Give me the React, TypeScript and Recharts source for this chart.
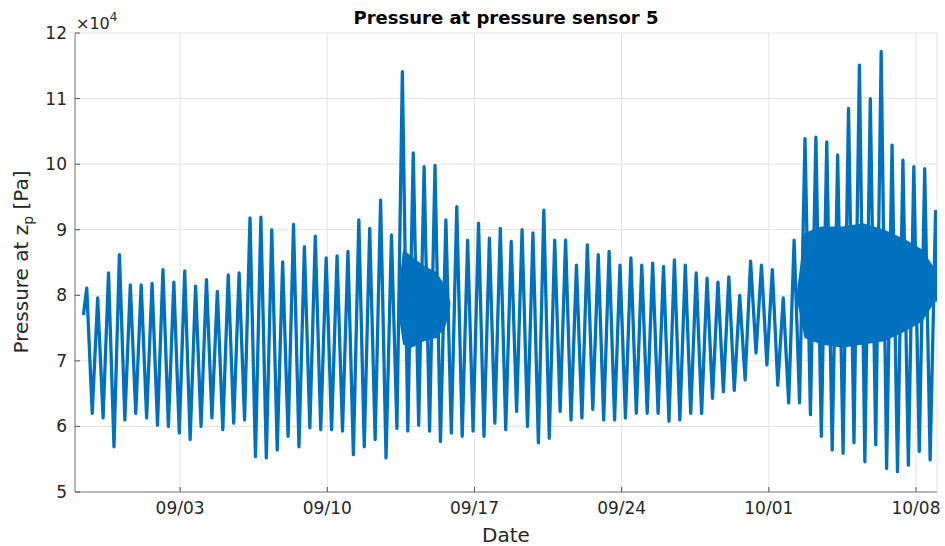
import React from 'react';
import { ComposedChart, Line, Area, XAxis, YAxis, CartesianGrid } from 'recharts';

// pressure values in units of 1e4 Pa, days counted from 09/01 00:00
const highs = [
  8.11, 7.96, 8.34, 8.62, 8.16, 8.16, 8.18, 8.39, 8.2, 8.37, 8.14, 8.24,
  8.06, 8.31, 8.34, 9.18, 9.19, 9.0, 8.51, 9.08, 8.74, 8.9, 8.57, 8.6, 8.67,
  9.15, 9.02, 9.45, 8.92, 11.41, 10.17, 9.96, 9.98, 9.15, 9.35, 8.84, 9.1,
  8.87, 9.02, 8.82, 9.0, 8.95, 9.3, 8.84, 8.84, 8.46, 8.77, 8.62, 8.67, 8.46,
  8.57, 8.46, 8.49, 8.44, 8.54, 8.46, 8.34, 8.26, 8.2, 8.28, 8.0, 8.52, 8.46,
  8.39, 7.96, 8.84, 10.39, 10.41, 10.34, 10.14, 10.85, 11.51, 11.0, 11.72, 10.29, 10.06, 9.96, 9.93, 9.28,
];
const lows = [
  6.2, 6.13, 5.69, 6.1, 6.2, 6.13, 6.02, 6.0, 5.9, 5.8, 6.0,
  6.13, 5.95, 6.05, 6.1, 5.54, 5.52, 5.64, 5.85, 5.69, 5.98, 5.95, 5.95, 5.93,
  5.57, 5.69, 5.8, 5.52, 5.97, 5.93, 6.02, 5.93, 5.77, 5.9, 5.85, 5.93,
  5.85, 6.05, 5.95, 6.23, 6.0, 5.75, 5.82, 6.23, 6.1, 6.13, 6.26, 6.1, 6.1,
  6.13, 6.2, 6.2, 6.2, 6.08, 6.1, 6.2, 6.2, 6.43, 6.53, 6.55, 6.71, 7.12,
  6.94, 6.63, 6.36, 6.36, 6.18, 5.85, 5.64, 5.59, 5.75, 5.46, 5.72, 5.36, 5.31, 5.41, 5.62, 5.49,
];
const startDay = -2.6;
const startValue = 7.7;
const firstPeakDay = -2.44;
const halfTide = 0.2588;
const endDay = 38;
const endValue = 7.9;

// dense high-frequency parts of the record (lo / hi envelope)
const stormADays = [12.35, 12.6, 13.0, 13.6, 14.2, 14.6, 14.85];
const stormALow = [7.8, 7.25, 7.2, 7.3, 7.35, 7.5, 7.8];
const stormAHigh = [7.9, 8.7, 8.6, 8.45, 8.35, 8.15, 7.9];
const stormBDays = [31.35, 31.7, 32.5, 33.5, 34.5, 35.5, 36.5, 37.3, 37.9];
const stormBLow = [7.9, 7.35, 7.25, 7.2, 7.25, 7.3, 7.45, 7.6, 7.9];
const stormBHigh = [8.1, 8.95, 9.05, 9.05, 9.1, 9.0, 8.85, 8.7, 8.4];

const dateTicks = [2, 9, 16, 23, 30, 37];
const dateLabels = ['09/03', '09/10', '09/17', '09/24', '10/01', '10/08'];
const pressureTicks = [5, 6, 7, 8, 9, 10, 11, 12];

const tide: { day: number; p: number }[] = [{ day: startDay, p: startValue }];
highs.forEach((h, i) => {
  tide.push({ day: firstPeakDay + 2 * i * halfTide, p: h });
  if (i < lows.length) tide.push({ day: firstPeakDay + (2 * i + 1) * halfTide, p: lows[i] });
});
tide.push({ day: endDay, p: endValue });

const band = (days: number[], lo: number[], hi: number[]) =>
  days.map((d, i) => ({ day: d, lo: lo[i], hi: hi[i] }));

const blue = '#0072BD';
const font = 'DejaVu Sans';
const tickStyle = { fill: '#262626', fontSize: 17, fontFamily: font };

export default function App() {
  return (
    <div style={{ position: 'absolute', left: 0, top: 0, width: 945, height: 546, background: '#fff' }}>
      <ComposedChart width={945} height={546} margin={{ top: 33, right: 8, bottom: 24, left: 35 }}>
        <CartesianGrid stroke="#e4e4e4" />
        <XAxis
          dataKey="day"
          type="number"
          domain={[-3, 38]}
          ticks={dateTicks}
          tickFormatter={(v) => dateLabels[dateTicks.indexOf(v)]}
          height={30}
          tickSize={-5}
          tickMargin={15}
          tick={tickStyle}
          stroke="#808080"
          tickLine={{ stroke: '#555' }}
          allowDataOverflow
        />
        <XAxis
          xAxisId="top"
          orientation="top"
          dataKey="day"
          type="number"
          domain={[-3, 38]}
          ticks={dateTicks}
          tickFormatter={() => ''}
          height={0}
          tickSize={-5}
          stroke="#808080"
          tickLine={{ stroke: '#555' }}
        />
        <YAxis
          type="number"
          domain={[5, 12]}
          ticks={pressureTicks}
          width={40}
          tickSize={-5}
          tickMargin={13}
          tick={tickStyle}
          stroke="#808080"
          tickLine={{ stroke: '#555' }}
          allowDataOverflow
        />
        <YAxis
          yAxisId="right"
          orientation="right"
          type="number"
          domain={[5, 12]}
          ticks={pressureTicks}
          tickFormatter={() => ''}
          width={0}
          tickSize={-5}
          stroke="#808080"
          tickLine={{ stroke: '#555' }}
        />
        <Area data={band(stormADays, stormALow, stormAHigh)} dataKey={(d: any) => [d.lo, d.hi]} type="linear" stroke="none" fill={blue} fillOpacity={1} isAnimationActive={false} />
        <Area data={band(stormBDays, stormBLow, stormBHigh)} dataKey={(d: any) => [d.lo, d.hi]} type="linear" stroke="none" fill={blue} fillOpacity={1} isAnimationActive={false} />
        <Line data={tide} dataKey="p" type="linear" stroke={blue} strokeWidth={3.3} strokeLinejoin="round" dot={false} activeDot={false} isAnimationActive={false} />
      </ComposedChart>
      <svg width={945} height={546} style={{ position: 'absolute', left: 0, top: 0, pointerEvents: 'none' }} fontFamily={font}>
        <text x={506} y={24} textAnchor="middle" fontSize={18} fontWeight="bold" fill="#000">
          Pressure at pressure sensor 5
        </text>
        <text x={76} y={29} fontSize={16} fill="#262626">
          ×10<tspan dy={-8} fontSize={12}>4</tspan>
        </text>
        <text x={506} y={542} textAnchor="middle" fontSize={20} fill="#262626">
          Date
        </text>
        <text transform="translate(28, 262) rotate(-90)" textAnchor="middle" fontSize={20} fill="#262626">
          Pressure at z<tspan dy={5} fontSize={14}>p</tspan><tspan dy={-5}> [Pa]</tspan>
        </text>
      </svg>
    </div>
  );
}
